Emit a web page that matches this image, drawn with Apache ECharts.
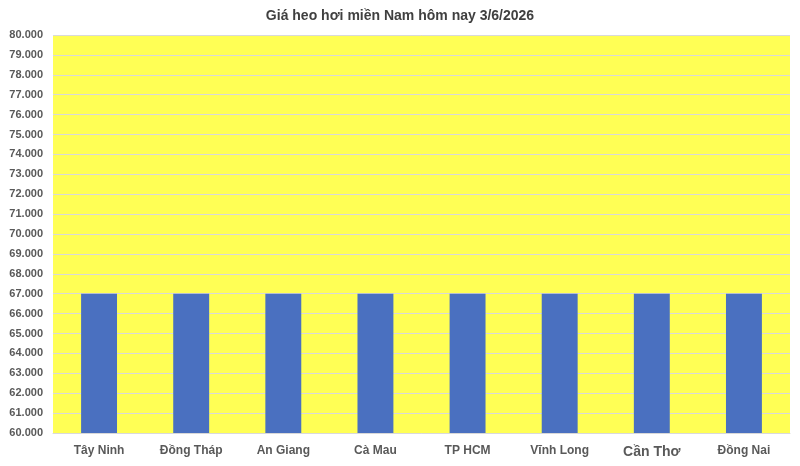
<!DOCTYPE html>
<html>
<head>
<meta charset="utf-8">
<script src="https://cdn.jsdelivr.net/npm/echarts@6/dist/echarts.min.js"></script>
<style>html,body{margin:0;padding:0;background:#fff}#c{width:800px;height:466px}</style>
</head>
<body>
<div id="c"></div>
<script>
const titleText = "Giá heo hơi miền Nam hôm nay 3/6/2026";
const categories = ["Tây Ninh", "Đồng Tháp", "An Giang", "Cà Mau", "TP HCM", "Vĩnh Long", "Cần Thơ", "Đồng Nai"];
const prices = [67000, 67000, 67000, 67000, 67000, 67000, 67000, 67000];
const yMin = 60000, yMax = 80000, yStep = 1000;

const FONT = 'Liberation Sans';
const chart = echarts.init(document.getElementById('c'));
chart.setOption({
  animation: false,
  textStyle: { fontFamily: FONT },
  title: {
    text: titleText, left: 'center', top: 4,
    textStyle: { fontFamily: FONT, fontSize: 14, fontWeight: 'bold', color: '#404040' }
  },
  grid: { left: 53, right: 10, top: 35, bottom: 33, show: true, backgroundColor: '#FFFF55', borderWidth: 0 },
  xAxis: {
    type: 'category', data: categories,
    axisLine: { show: true, lineStyle: { color: '#D9D9D9' } },
    axisTick: { show: false },
    axisLabel: {
      interval: 0, margin: 12, color: '#595959', fontSize: 12, fontWeight: 'bold', fontFamily: FONT,
      formatter: function (v) { return v === 'Cần Thơ' ? '{big|' + v + '}' : v; },
      rich: { big: { fontSize: 14, fontWeight: 'bold', color: '#595959', fontFamily: FONT } }
    }
  },
  yAxis: {
    type: 'value', min: yMin, max: yMax, interval: yStep,
    axisLine: { show: false }, axisTick: { show: false },
    splitLine: { lineStyle: { color: '#D9D9D9', width: 1 } },
    axisLabel: {
      margin: 10, color: '#595959', fontSize: 11, fontWeight: 'bold', fontFamily: FONT,
      formatter: function (v) { return String(v).replace(/\B(?=(\d{3})+(?!\d))/g, '.'); }
    }
  },
  series: [{
    type: 'bar', data: prices, barWidth: '39%',
    itemStyle: { color: '#4A70C0' }
  }]
});
</script>
</body>
</html>
